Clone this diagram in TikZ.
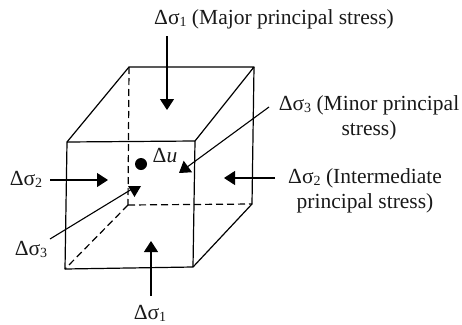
\documentclass[tikz,border=0pt]{standalone}
\usepackage{fontspec}
\setmainfont{Liberation Serif}
\usetikzlibrary{arrows.meta}
\tikzset{
 x=1pt,y=-1pt,
 edge/.style={line width=1.2pt,line join=round},
 hidden/.style={line width=1.2pt,dash pattern=on 7pt off 4pt},
 force/.style={line width=1.1pt,-{Triangle[length=11pt,width=14pt]}},
 plainforce/.style={line width=1.1pt},
 lab/.style={font=\fontsize{21.5}{25}\selectfont,inner sep=0pt,align=center,text=black!90}
}
\newcommand{\ds}[1]{Δσ\raisebox{-0.25ex}{\fontsize{14}{14}\selectfont #1}}
\begin{document}
\begin{tikzpicture}
\useasboundingbox (0,0) rectangle (462,324);
\coordinate (ftl) at (67,142);\coordinate (ftr) at (195,141);
\coordinate (fbr) at (193,267);\coordinate (fbl) at (65,269);
\coordinate (btl) at (129,67);\coordinate (btr) at (254,67);
\coordinate (bbr) at (252,204);\coordinate (bbl) at (128,205);
\draw[edge] (ftl)--(ftr)--(fbr)--(fbl)--cycle;
\draw[edge] (ftl)--(btl)--(btr)--(ftr);
\draw[edge] (btr)--(bbr)--(fbr);
\draw[hidden] (btl)--(bbl);
\draw[hidden] (bbl)--(bbr);
\draw[hidden] (bbl)--(fbl);
\node[lab,anchor=base] (t1) at (274,24) {\ds{1} (Major principal stress)};
\node[lab,anchor=base] (t2) at (150,319) {\ds{1}};
\node[lab,anchor=base] (t3) at (26,185) {\ds{2}};
\node[lab,anchor=base] (t4) at (31,255) {\ds{3}};
\node[lab,anchor=base] (t5) at (365,183) {\ds{2} (Intermediate};
\node[lab,anchor=base] (t6) at (365,208) {principal stress)};
\node[lab,anchor=base] (t7) at (369,110) {\ds{3} (Minor principal};
\node[lab,anchor=base] (t8) at (369,135) {stress)};
\node[lab,anchor=base] (u) at (165,162) {Δ\textit{u}};
\fill (141,164) circle (6pt);
\coordinate (a1) at (167,36);\coordinate (a1e) at (167,110);
\coordinate (a2) at (151,296);\coordinate (a2e) at (151,241);
\coordinate (a3) at (50,180);\coordinate (a3e) at (108,180);
\coordinate (a4) at (275,178);\coordinate (a4e) at (224,178);
\coordinate (a5) at (50,239);\coordinate (a5e) at (132,189);
\coordinate (a6) at (269,107);\coordinate (a6e) at (179,173);
\draw[force] (a1)--(a1e);
\draw[force] (a2)--(a2e);
\draw[force] (a3)--(a3e);
\draw[force] (a4)--(a4e);
\draw[plainforce] (a5)--(a5e);
\fill (128,186)--(141,186)--(134.5,197)--cycle;
\draw[force] (a6)--(a6e);
\end{tikzpicture}
\end{document}
